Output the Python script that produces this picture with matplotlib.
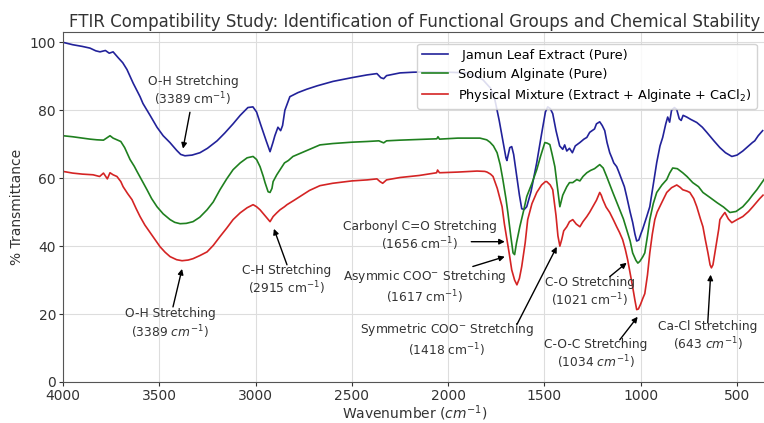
import matplotlib
matplotlib.use("Agg")
import matplotlib.pyplot as plt

# wavenumbers (cm-1) and % transmittance, high -> low
jamun_wn = [4000, 3950, 3900, 3860, 3830, 3808, 3780, 3760, 3740, 3714, 3690, 3668, 3636, 3600,
            3585, 3548, 3512, 3480, 3445, 3410, 3389, 3367, 3330, 3289, 3250, 3200, 3160, 3117,
            3080, 3040, 3014, 2995, 2975, 2960, 2945, 2925, 2910, 2900, 2884, 2870, 2860, 2848,
            2822, 2780, 2734, 2680, 2598, 2500, 2422, 2370, 2350, 2335, 2320, 2250, 2183, 2100,
            2000, 1900, 1820, 1780, 1757, 1735, 1716, 1700, 1695, 1688, 1680, 1670, 1660, 1645,
            1630, 1618, 1605, 1592, 1570, 1540, 1515, 1495, 1483, 1470, 1457, 1440, 1421, 1405,
            1395, 1384, 1370, 1355, 1340, 1316, 1295, 1280, 1265, 1240, 1230, 1213, 1200, 1187,
            1175, 1161, 1150, 1140, 1125, 1115, 1099, 1085, 1073, 1055, 1042, 1030, 1021, 1010,
            1000, 990, 970, 953, 935, 917, 900, 886, 870, 860, 850, 840, 825, 813, 800, 790, 780,
            761, 740, 709, 680, 657, 620, 589, 560, 527, 500, 470, 440, 420, 408, 390, 367]
jamun_t = [100, 99.3, 98.8, 98.3, 97.5, 97.2, 97.6, 96.8, 97.2, 95.5, 94, 92, 88, 84,
           82, 78.5, 75, 72.5, 70.5, 68.2, 67, 66.6, 66.8, 67.5, 68.8, 71, 73.3, 76,
           78.5, 80.8, 81, 79.5, 76, 73.5, 71, 67.8, 70.5, 72.5, 75, 74, 75.5, 80,
           84, 85.2, 86.2, 87.2, 88.5, 89.6, 90.4, 90.8, 89.6, 89.3, 90.2, 91, 91.2, 91.3,
           91.2, 91, 89, 86.5, 83, 77, 71, 66, 65.2, 67, 69, 69.3, 67, 61,
           55, 51, 50.8, 51.6, 56, 64.6, 73, 79.5, 81, 80.5, 79, 74, 69.5, 68.5,
           69.8, 68, 68.8, 67.5, 69.5, 70.5, 71.5, 72, 73.5, 74.5, 76, 76.6, 75.5, 74,
           70.5, 67.5, 66, 64.5, 63.4, 62, 59.6, 57.5, 54.6, 50, 47, 43.5, 41.5, 41.8,
           43.5, 45, 48.5, 51.6, 58, 64.6, 69.5, 72, 76, 78, 76.5, 80, 80.8, 80.2, 77.5, 77, 78.5,
           78, 77.3, 76.4, 75, 73.5, 71, 69, 67.5, 66.4, 66.8, 68, 69.5, 70.5, 71, 72.5, 74]

alginate_wn = [4000, 3950, 3900, 3860, 3824, 3790, 3756, 3740, 3700, 3680, 3668, 3652, 3630, 3616,
               3590, 3564, 3540, 3512, 3480, 3444, 3420, 3392, 3360, 3325, 3290, 3252, 3220, 3185,
               3150, 3117, 3080, 3044, 3013, 2995, 2977, 2960, 2951, 2935, 2925, 2915, 2909, 2890,
               2873, 2850, 2830, 2806, 2740, 2666, 2600, 2500, 2422, 2360, 2335, 2320, 2250, 2150,
               2059, 2053, 2045, 1950, 1835, 1800, 1783, 1765, 1746, 1730, 1716, 1700, 1690, 1675,
               1663, 1655, 1645, 1628, 1610, 1592, 1565, 1540, 1520, 1498, 1485, 1472, 1460, 1446,
               1432, 1420, 1405, 1384, 1370, 1353, 1332, 1316, 1300, 1280, 1260, 1240, 1213, 1195,
               1177, 1160, 1145, 1125, 1109, 1090, 1073, 1055, 1042, 1025, 1015, 1005, 990, 979,
               965, 953, 935, 917, 890, 865, 850, 834, 810, 782, 760, 730, 700, 677, 640, 604,
               570, 537, 505, 470, 440, 420, 397, 370, 360]
alginate_t = [72.5, 72.2, 71.8, 71.5, 71.3, 71.2, 72.5, 71.8, 70.8, 69, 67.5, 65.5, 63.5, 62,
              59.3, 56.6, 54, 51.6, 49.5, 47.8, 47, 46.6, 46.7, 47.2, 48.5, 50.7, 53, 56.6,
              59.8, 62.5, 64.5, 66, 66.4, 65.5, 63.4, 60.5, 58.7, 56, 55.8, 57, 59, 61,
              62.5, 64.5, 65.2, 66.4, 68, 69.8, 70.2, 70.6, 70.8, 71, 70.4, 71, 71.2, 71.4,
              71.6, 72.2, 71.5, 71.8, 71.8, 71.3, 70.6, 69.5, 67.5, 64, 59.6, 54, 49.9, 43,
              38, 37.5, 41, 45.7, 50, 54.6, 58.5, 62.5, 66.5, 70.5, 70.3, 69.9, 67, 63.4,
              57, 51.6, 55, 57.5, 58.7, 58.7, 59.6, 59.2, 60.5, 61.6, 62.3, 62.8, 64, 63,
              60.5, 58, 55.8, 53, 50.7, 48, 44.8, 41.5, 38, 35.8, 35, 35.5, 36.8, 38,
              43, 47.8, 52.5, 55.8, 58, 59.6, 61.5, 63, 62.8, 61.6, 60.5, 58.7, 57.5, 55.8, 54.3, 52.8,
              51.5, 49.9, 50.2, 51.6, 53.5, 55, 56.6, 58.8, 59.6]

mixture_wn = [4000, 3950, 3900, 3844, 3810, 3790, 3770, 3756, 3740, 3720, 3700, 3688, 3665, 3642,
              3620, 3600, 3575, 3548, 3520, 3496, 3470, 3444, 3410, 3382, 3350, 3325, 3290, 3252,
              3220, 3185, 3150, 3117, 3080, 3044, 3013, 2995, 2977, 2955, 2935, 2925, 2909, 2890,
              2873, 2850, 2837, 2800, 2770, 2720, 2666, 2600, 2500, 2420, 2370, 2354, 2340, 2320,
              2250, 2150, 2060, 2055, 2045, 1950, 1850, 1810, 1798, 1780, 1767, 1745, 1720, 1708,
              1695, 1682, 1670, 1655, 1643, 1630, 1618, 1600, 1587, 1565, 1540, 1515, 1495, 1488,
              1470, 1457, 1440, 1430, 1420, 1410, 1400, 1384, 1370, 1353, 1335, 1316, 1300, 1280,
              1265, 1249, 1230, 1213, 1205, 1197, 1180, 1161, 1140, 1125, 1110, 1094, 1080, 1068,
              1055, 1042, 1030, 1021, 1012, 1000, 990, 979, 965, 953, 940, 927, 915, 901, 885,
              865, 840, 813, 795, 782, 760, 745, 725, 709, 690, 677, 665, 651, 640, 633, 625,
              615, 604, 595, 589, 575, 563, 545, 527, 500, 470, 440, 418, 400, 382, 365]
mixture_t = [62, 61.5, 61.2, 61, 60.5, 61.5, 59.8, 61.6, 61, 60.5, 59, 57.5, 55.5, 53.7,
             51, 48.7, 46.2, 44, 41.7, 39.8, 38.2, 36.9, 36, 35.7, 35.9, 36.3, 37.2, 38.3,
             40.2, 42.8, 45.3, 47.8, 49.8, 51.3, 52.2, 51.6, 50.7, 49.2, 47.8, 47.2, 48.7, 49.8,
             50.7, 51.6, 52.2, 53.5, 54.6, 56.4, 57.8, 58.5, 59.2, 59.5, 59.8, 59, 58.5, 59.5,
             60.2, 60.8, 61.6, 62.4, 61.6, 61.8, 62.1, 62, 61.8, 61.2, 60.5, 57, 51.6, 46.5,
             42, 37.5, 33, 30, 28.6, 30.5, 34, 41, 47.8, 52.5, 55.8, 58, 59, 59,
             58, 56.6, 49, 43, 40, 42, 44.5, 45.7, 47.2, 47.8, 46.5, 45.7, 47.2, 48.7,
             50, 51.6, 53.5, 55.8, 55, 53.7, 51.5, 49.9, 47.5, 45.7, 44, 41.9, 39, 36,
             32, 28, 24, 21.3, 21.5, 23, 24.5, 26, 31.5, 38, 43.5, 47.8, 50, 51.6, 53.5,
             55.8, 57.2, 58, 57.3, 56.6, 56.2, 55.8, 54, 51.6, 48, 45.7, 42, 38, 34.5, 33.6, 34.5,
             38, 41.9, 45, 47.8, 49, 49.9, 48, 46.9, 47.8, 48.7, 50.2, 51.6, 52.8, 54, 55]

series_labels = [" Jamun Leaf Extract (Pure)", "Sodium Alginate (Pure)",
                 "Physical Mixture (Extract + Alginate + CaCl$_2$)"]
series_colors = ["#22229a", "#1f801f", "#d42424"]

# peak labels: text, text position (wn, %T), arrow start, arrow tip
peak_texts = ["O-H Stretching\n(3389 cm$^{-1}$)",
              "C-H Stretching\n(2915 cm$^{-1}$)",
              "O-H Stretching\n(3389 $cm^{-1}$)",
              "Carbonyl C=O Stretching\n(1656 cm$^{-1}$)",
              "Asymmic COO$^{-}$ Stretching\n(1617 cm$^{-1}$)",
              "Symmetric COO$^{-}$ Stretching\n(1418 cm$^{-1}$)",
              "C-O Stretching\n(1021 cm$^{-1}$)",
              "C-O-C Stretching\n(1034 $cm^{-1}$)",
              "Ca-Cl Stretching\n(643 $cm^{-1}$)"]
peak_text_xy = [(3325, 85.5), (2837, 29.8), (3445, 17.1), (2147, 42.8), (2121, 28),
                (2007, 12.4), (1265, 26.3), (1234, 8), (652, 13.3)]
peak_arrow_from = [(3341, 79.4), (2837, 34.5), (3429, 22.1), (1880, 41.3), (1872, 34),
                   (1644, 16.8), (1161, 31), (1109, 12.4), (652, 17.4)]
peak_arrow_to = [(3377, 68.7), (2905, 45.1), (3382, 33.3), (1706, 41.3), (1706, 36.9),
                 (1436, 39.8), (1073, 35.1), (1016, 19.2), (637, 31.6)]

fig = plt.figure(figsize=(7.64, 4.23), dpi=100)
ax = fig.add_axes([0.0825, 0.097, 0.92, 0.827])

for wn, t, lab, col in zip([jamun_wn, alginate_wn, mixture_wn], [jamun_t, alginate_t, mixture_t],
                           series_labels, series_colors):
    ax.plot(wn, t, color=col, lw=1.2, label=lab)

for txt, pos, a0, a1 in zip(peak_texts, peak_text_xy, peak_arrow_from, peak_arrow_to):
    ax.text(pos[0], pos[1], txt, ha="center", va="center", fontsize=8.8, color="#333333")
    ax.annotate("", xy=a1, xytext=a0,
                arrowprops=dict(arrowstyle="-|>", color="black", lw=1, mutation_scale=8,
                                shrinkA=0, shrinkB=0))

ax.set_xlim(4000, 350)
ax.set_ylim(0, 103)
ax.set_xticks([4000, 3500, 3000, 2500, 2000, 1500, 1000, 500])
ax.set_yticks([0, 20, 40, 60, 80, 100])
ax.grid(True, color="#dddddd", lw=0.8)
ax.set_axisbelow(True)
for s in ax.spines.values():
    s.set_color("#555555")
ax.tick_params(labelsize=10, colors="#333333", length=3, pad=2)
ax.set_xlabel("Wavenumber ($cm^{-1}$)", fontsize=10, color="#333333", labelpad=0)
ax.set_ylabel("% Transmittance", fontsize=10, color="#333333")
ax.set_title("FTIR Compatibility Study: Identification of Functional Groups and Chemical Stability",
             fontsize=12, color="#333333", pad=4)
ax.legend(loc="upper right", fontsize=9.3, framealpha=0.85, edgecolor="#cccccc",
          bbox_to_anchor=(0.996, 0.985), labelspacing=0.45)

fig.savefig("out.png", dpi=100)
